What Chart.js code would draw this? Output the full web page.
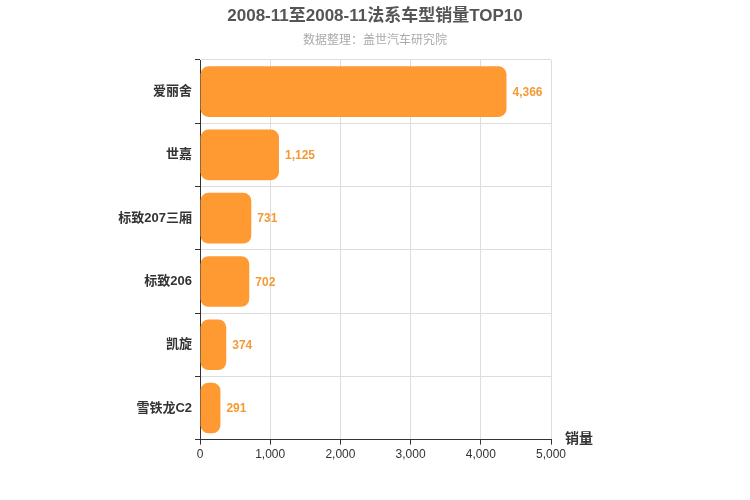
<!DOCTYPE html>
<html><head><meta charset="utf-8">
<script src="https://cdn.jsdelivr.net/npm/chart.js@4/dist/chart.umd.min.js"></script>
<style>html,body{margin:0;padding:0;background:#fff}#w{width:750px;height:500px}</style>
</head><body><div id="w"><canvas id="c" width="750" height="500"></canvas></div>
<script>
const categories = ["爱丽舍","世嘉","标致207三厢","标致206","凯旋","雪铁龙C2"];
const sales = [4366,1125,731,702,374,291];
const xTicks = [0,1000,2000,3000,4000,5000];
const FONT = "'Liberation Sans', 'Noto Sans CJK SC', sans-serif";
const extras = {
  id:'extras',
  afterDatasetsDraw(chart){
    const ctx = chart.ctx;
    ctx.save();
    ctx.textAlign='center'; ctx.textBaseline='middle';
    ctx.fillStyle='#555'; ctx.font="bold 17px "+FONT;
    ctx.fillText("2008-11至2008-11法系车型销量TOP10",375,16);
    ctx.fillStyle='#aaa'; ctx.font="12px "+FONT;
    ctx.fillText("数据整理：盖世汽车研究院",375,41);
    ctx.fillStyle='#333'; ctx.font="bold 14px "+FONT; ctx.textAlign='left';
    ctx.fillText("销量",565,439);
    const meta = chart.getDatasetMeta(0);
    ctx.fillStyle='#f39a35'; ctx.font="bold 12px "+FONT;
    meta.data.forEach((b,i)=>{ctx.fillText(sales[i].toLocaleString('en-US'), b.x+6, b.y+1);});
    ctx.restore();
  }
};
new Chart(document.getElementById('c'),{
  type:'bar',
  data:{labels:categories,datasets:[{data:sales,backgroundColor:'#ff9a33',borderRadius:8,borderSkipped:false,barPercentage:0.8,categoryPercentage:1}]},
  options:{
    indexAxis:'y',responsive:false,animation:false,
    layout:{padding:{top:60,right:199,bottom:35,left:0}},
    plugins:{legend:{display:false},tooltip:{enabled:false}},
    scales:{
      x:{min:0,max:5000,afterBuildTicks(a){a.ticks=xTicks.map(v=>({value:v}));},
        ticks:{color:'#333',font:{size:12,family:FONT},callback:v=>v.toLocaleString('en-US')},
        grid:{color:'#ddd',tickColor:'#333',tickLength:5},border:{color:'#333'}},
      y:{afterFit(a){a.width=200;},
        ticks:{color:'#333',font:{size:13,weight:'bold',family:FONT}},
        grid:{offset:true,color:'#ddd',tickColor:'#333',tickLength:5},border:{color:'#333'}}
    }
  },
  plugins:[extras]
});
</script></body></html>
